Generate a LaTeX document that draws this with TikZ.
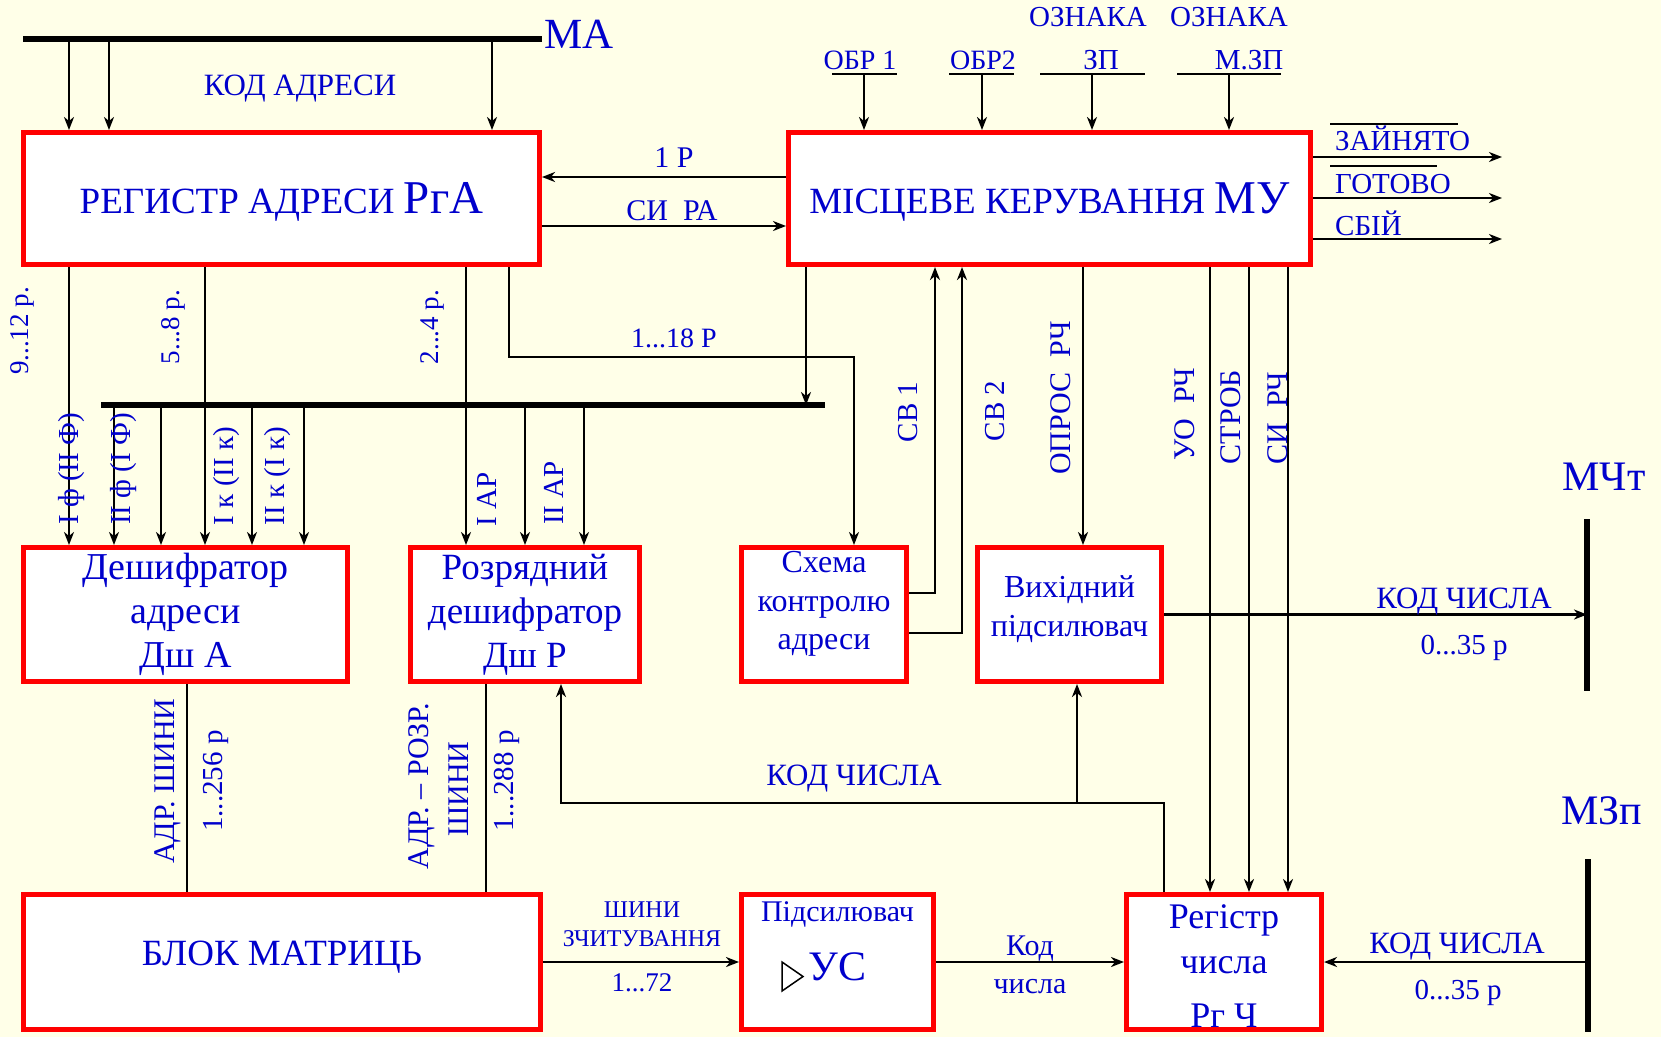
\documentclass[tikz,border=0pt]{standalone}
\usepackage{fontspec}
\setmainfont{Liberation Serif}
\usetikzlibrary{arrows.meta,positioning,calc}

\definecolor{bgcream}{RGB}{255,255,232}
\definecolor{txtblue}{RGB}{0,0,204}
\newcommand*{\setfs}[1]{\fontsize{#1}{#1}\selectfont}
\newcommand*{\mabusy}{39}
\newcommand*{\busy}{405}

\begin{document}
\begin{tikzpicture}
[
	x=1pt, y=-1pt,
	unitbox/.style={draw=red, line width=5pt, fill=white, inner sep=0pt, text=txtblue, align=center},
	lbl/.style={text=txtblue, inner sep=0pt, anchor=base, font=\setfs{30}},
	vlbl/.style={lbl, anchor=center, rotate=90},
	arr/.style={line width=2.5pt, -{Stealth[length=13pt,width=10pt,inset=4pt]}},
	wire/.style={line width=2.5pt},
	busline/.style={line width=6pt},
	ovl/.style={line width=2pt}
]

	% page
	\useasboundingbox (0,0) rectangle (1661,1037);
	\fill[bgcream] (0,0) rectangle (1661,1037);

	% blocks
	\node[unitbox, minimum width=516pt, minimum height=132pt, text height=38pt, font=\setfs{37}] (rga) at (281.5,198.5) {РЕГИСТР АДРЕСИ {\setfs{47}РгА}};
	\node[unitbox, minimum width=522pt, minimum height=132pt, text height=38pt, font=\setfs{37}] (mu) at (1049.5,198.5) {МІСЦЕВЕ КЕРУВАННЯ {\setfs{47}МУ}};
	\node[unitbox, minimum width=324pt, minimum height=134pt, font=\fontsize{38}{44}\selectfont] (dsha) at (185.5,614.5) {Дешифратор\\адреси\\Дш А};
	\node[unitbox, minimum width=229pt, minimum height=134pt, font=\fontsize{37}{44}\selectfont] (dshr) at (525,614.5) {Розрядний\\дешифратор\\Дш Р};
	\node[unitbox, minimum width=165pt, minimum height=134pt, text depth=28pt, font=\fontsize{32}{38.5}\selectfont] (skha) at (824,614.5) {Схема\\контролю\\адреси};
	\node[unitbox, minimum width=184pt, minimum height=134pt, text depth=16.5pt, font=\fontsize{32}{39}\selectfont] (vykh) at (1069.5,614.5) {Вихідний\\підсилювач};
	\node[unitbox, minimum width=517pt, minimum height=135pt, text depth=18pt, font=\setfs{37}] (blok) at (282,962) {БЛОК МАТРИЦЬ};
	\node[unitbox, minimum width=192pt, minimum height=135pt, text depth=42pt, font=\fontsize{30}{36}\selectfont] (pids) at (837.5,962) {Підсилювач\\[23pt]{\setfs{42}УС}};
	\node[unitbox, minimum width=195pt, minimum height=135pt, text height=130pt, font=\fontsize{36}{45}\selectfont] (rgch) at (1224,962) {Регістр\\числа\\[9pt]Рг Ч};

	% amplifier sign
	\draw[line width=1.5pt] (782,962) -- (803,976.5) -- (782,991) -- cycle;

	% address bus MA
	\coordinate (maL) at (23,\mabusy);
	\coordinate (maR) at (542,\mabusy);
	\draw[busline] (maL) -- (maR);
	\foreach \x [count=\i] in {69,109,492} {
		\coordinate (ma\i) at (\x,\mabusy);
		\draw[arr] (ma\i) -- (ma\i |- rga.north);
	}

	% links between РгА and МУ
	\draw[arr] ([yshift=21.5pt]mu.west) -- ([yshift=21.5pt]rga.east);
	\draw[arr] ([yshift=-27.5pt]rga.east) -- ([yshift=-27.5pt]mu.west);

	% inputs of МУ
	\foreach \x/\a/\b [count=\i] in {864/832/897, 982/949/1014, 1092/1040/1145, 1229/1177/1281} {
		\draw[ovl] (\a,74) -- (\b,74);
		\coordinate (in\i) at (\x,74);
		\draw[arr] (in\i) -- (in\i |- mu.north);
	}

	% outputs of МУ
	\foreach \y [count=\i] in {157,198,239} {
		\coordinate (out\i) at (1502,\y);
		\draw[arr] (mu.east |- out\i) -- (out\i);
	}

	% inner bus and decoder lines
	\coordinate (busL) at (101,\busy);
	\coordinate (busR) at (825,\busy);
	\draw[busline] (busL) -- (busR);
	\foreach \x [count=\i] in {69,205} {
		\coordinate (ra\i) at (\x,\busy);
		\draw[arr] (ra\i |- rga.south) -- (ra\i |- dsha.north);
	}
	\coordinate (ra3) at (466,\busy);
	\draw[arr] (ra3 |- rga.south) -- (ra3 |- dshr.north);
	\foreach \x [count=\i] in {114,161,252,304} {
		\coordinate (ba\i) at (\x,\busy);
		\draw[arr] (ba\i) -- (ba\i |- dsha.north);
	}
	\foreach \x [count=\i] in {525,584} {
		\coordinate (br\i) at (\x,\busy);
		\draw[arr] (br\i) -- (br\i |- dshr.north);
	}
	\coordinate (mub) at (806,\busy);
	\draw[arr] (mub |- mu.south) -- (mub);

	% address check
	\coordinate (k18) at (509,357);
	\draw[arr] (k18 |- rga.south) -- (k18) -| ([xshift=30pt]skha.north);
	\coordinate (sv1c) at (935,593);
	\coordinate (sv2c) at (962,633);
	\draw[arr] (skha.east |- sv1c) -- (sv1c) -- (sv1c |- mu.south);
	\draw[arr] (skha.east |- sv2c) -- (sv2c) -- (sv2c |- mu.south);

	% control of the number path
	\coordinate (xop) at (1083,\busy);
	\draw[arr] (xop |- mu.south) -- (xop |- vykh.north);
	\foreach \x [count=\i] in {1210,1249,1288} {
		\coordinate (rc\i) at (\x,\busy);
		\draw[arr] (rc\i |- mu.south) -- (rc\i |- rgch.north);
	}

	% memory МЧт
	\coordinate (mchtT) at (1587,519);
	\coordinate (mchtB) at (1587,691);
	\draw[busline] (mchtT) -- (mchtB);
	\draw[arr] (vykh.east) -- (vykh.east -| mchtT);

	% number code loop
	\coordinate (kc) at (1164,803);
	\draw[arr] (kc |- rgch.north) -- (kc) -| ([xshift=36pt]dshr.south);
	\draw[arr] ([xshift=7.5pt]vykh.south |- kc) -- ([xshift=7.5pt]vykh.south);

	% buses of the matrix
	\draw[wire] ([xshift=1.5pt]dsha.south) -- ([xshift=1.5pt]dsha.south |- blok.north);
	\draw[wire] ([xshift=-39pt]dshr.south) -- ([xshift=-39pt]dshr.south |- blok.north);

	% read path
	\draw[arr] (blok.east) -- (pids.west);
	\draw[arr] (pids.east) -- (rgch.west);
	\coordinate (mzpT) at (1588,859);
	\coordinate (mzpB) at (1588,1032);
	\draw[busline] (mzpT) -- (mzpB);
	\draw[arr] (rgch.east -| mzpT) -- (rgch.east);

	% labels
	\node[lbl, font=\setfs{43}] (tma) at (579,48) {МА};
	\node[lbl, font=\setfs{31}] (tkodadr) at (300,95) {КОД АДРЕСИ};
	\node[lbl] (tr1) at (674,167) {1 Р};
	\node[lbl] (tsira) at (672,220) {СИ~~РА};
	\node[lbl, font=\setfs{28}] (tobr1) at (860,69) {ОБР 1};
	\node[lbl, font=\setfs{28}] (tobr2) at (983,69) {ОБР2};
	\node[lbl, font=\setfs{29}] (tozn1) at (1088,26) {ОЗНАКА};
	\node[lbl, font=\setfs{29}] (tzp) at (1101,69) {ЗП};
	\node[lbl, font=\setfs{29}] (tozn2) at (1229,26) {ОЗНАКА};
	\node[lbl, font=\setfs{29}] (tmzp) at (1249,69) {М.ЗП};
	\node[lbl, font=\setfs{29}, anchor=base west] (tzajn) at (1335,150) {ЗАЙНЯТО};
	\node[lbl, font=\setfs{29}, anchor=base west] (tgot) at (1335,193) {ГОТОВО};
	\node[lbl, font=\setfs{29}, anchor=base west] (tsbij) at (1335,235) {СБІЙ};
	\draw[ovl] ($(tzajn.base west)+(-5,-26)$) -- ($(tzajn.base west)+(123,-26)$);
	\draw[ovl] ($(tgot.base west)+(-5,-27)$) -- ($(tgot.base west)+(102,-27)$);
	\node[lbl, font=\setfs{28}] (tr118) at (674,347) {1...18 Р};
	\node[lbl, font=\setfs{31}] (tkch1) at (1464,608) {КОД ЧИСЛА};
	\node[lbl, font=\setfs{29}] (tr35a) at (1464,654) {0...35 р};
	\node[lbl, font=\setfs{31}] (tkch2) at (854,785) {КОД ЧИСЛА};
	\node[lbl, font=\setfs{24}] (tshyny) at (642,917) {ШИНИ};
	\node[lbl, font=\setfs{24}] (tzchyt) at (642,946) {ЗЧИТУВАННЯ};
	\node[lbl, font=\setfs{27}] (tr172) at (642,991) {1...72};
	\node[lbl] (tkod) at (1030,955) {Код};
	\node[lbl] (tchysla) at (1030,993) {числа};
	\node[lbl, font=\setfs{31}] (tkch3) at (1457,953) {КОД ЧИСЛА};
	\node[lbl, font=\setfs{29}] (tr35b) at (1458,999) {0...35 р};
	\node[lbl, font=\setfs{42}] (tmcht) at (1604,490) {МЧт};
	\node[lbl, font=\setfs{42}] (tmzp2) at (1602,824) {МЗп};

	% vertical labels
	\node[vlbl, font=\setfs{27}] (tr912) at (22,331) {9...12 р.};
	\node[vlbl, font=\setfs{27}] (tr58) at (173,327) {5...8 р.};
	\node[vlbl, font=\setfs{27}] (tr24) at (432,327) {2...4 р.};
	\node[vlbl, font=\setfs{29}] (tif) at (72,469) {I ф (II Ф)};
	\node[vlbl, font=\setfs{29}] (tiif) at (124,469) {II ф (I Ф)};
	\node[vlbl, font=\setfs{29}] (tik) at (227,476) {I к (II к)};
	\node[vlbl, font=\setfs{29}] (tiik) at (278,476) {II к (I к)};
	\node[vlbl, font=\setfs{29}] (tiar) at (487,499) {I АР};
	\node[vlbl, font=\setfs{29}] (tiiar) at (554,493) {II АР};
	\node[vlbl, font=\setfs{29}] (tsv1) at (908,412) {СВ 1};
	\node[vlbl, font=\setfs{29}] (tsv2) at (995,411) {СВ 2};
	\node[vlbl] (topros) at (1061,398) {ОПРОС~~РЧ};
	\node[vlbl] (tuorch) at (1185,414) {УО~~РЧ};
	\node[vlbl] (tstrob) at (1231,417) {СТРОБ};
	\node[vlbl] (tsirch) at (1278,418) {СИ~~РЧ};
	\node[vlbl] (tadrsh) at (168,781) {АДР. ШИНИ};
	\node[vlbl, font=\setfs{29}] (tr256) at (216,781) {1...256 р};
	\node[vlbl] (tadrrozr) at (422,786) {АДР. – РОЗР.};
	\node[vlbl] (tshyny2) at (459,789) {ШИНИ};
	\node[vlbl, font=\setfs{29}] (tr288) at (507,781) {1...288 р};

\end{tikzpicture}
\end{document}
